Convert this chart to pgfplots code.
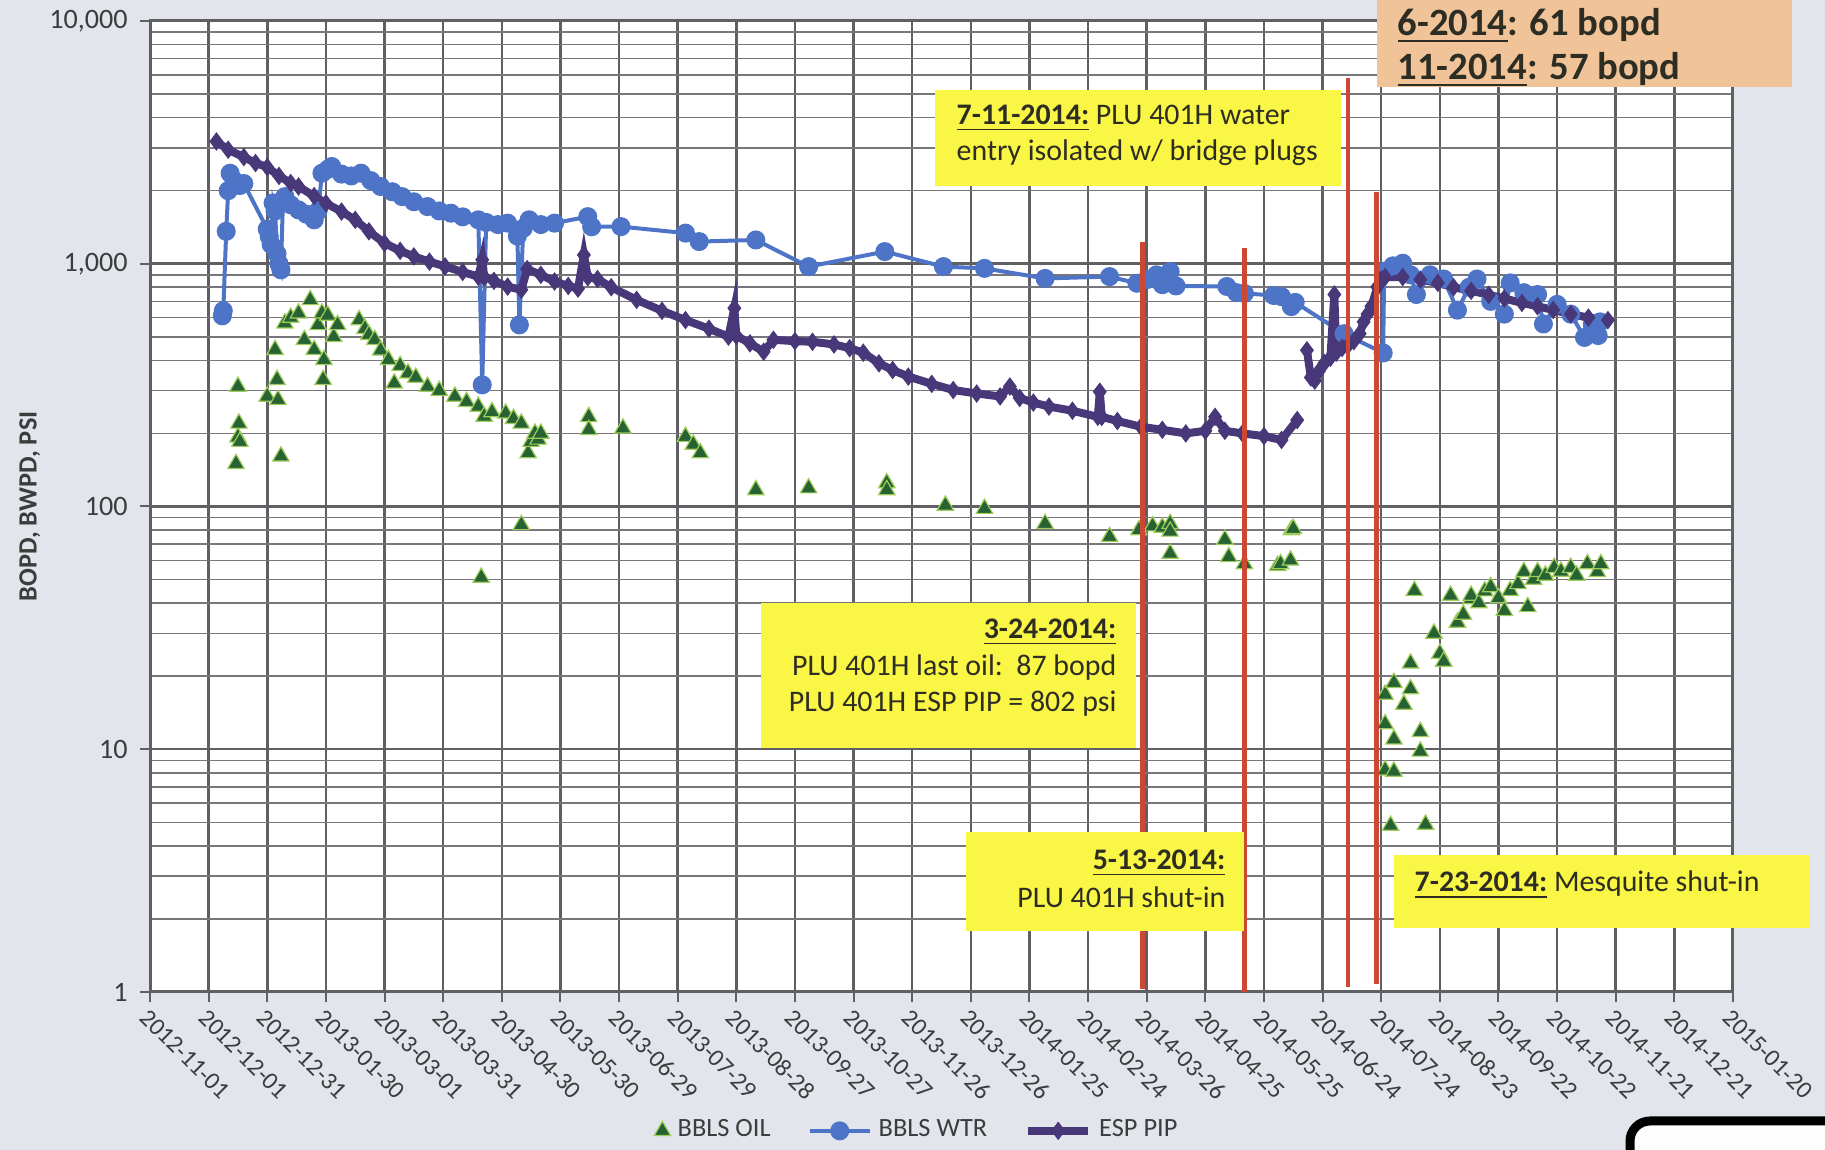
\documentclass[border=0pt]{standalone}
\usepackage{fontspec}
\setmainfont{Carlito}
\usepackage{pgfplots}
\pgfplotsset{compat=1.18}

\definecolor{bgpaper}{RGB}{226,229,236}
\definecolor{oilfill}{RGB}{38,98,52}
\definecolor{oiledge}{RGB}{160,205,90}
\definecolor{wtrblue}{RGB}{78,116,200}
\definecolor{pipdark}{RGB}{72,56,122}
\definecolor{gridgray}{RGB}{95,95,100}
\definecolor{noteyellow}{RGB}{250,246,70}
\definecolor{notepeach}{RGB}{240,196,152}
\definecolor{shutred}{RGB}{204,72,50}
\definecolor{txtgray}{RGB}{60,60,60}
\definecolor{notetext}{RGB}{45,45,35}

\newcommand\notefont{\fontsize{8.5}{10}\selectfont}

\begin{document}
\begin{tikzpicture}
\fill[bgpaper] (0,0) rectangle (182.5mm,115mm);
\path[use as bounding box] (0,0) rectangle (182.5mm,115mm);

\begin{axis}[
  at={(15mm,15.8mm)}, anchor=south west,
  width=158.3mm, height=97.1mm, scale only axis,
  xmin=0, xmax=810,
  ymode=log, ymin=1, ymax=10000,
  axis background/.style={fill=white},
  xtick={0,30,...,810},
  xticklabels={2012-11-01,2012-12-01,2012-12-31,2013-01-30,2013-03-01,2013-03-31,2013-04-30,2013-05-30,2013-06-29,2013-07-29,2013-08-28,2013-09-27,2013-10-27,2013-11-26,2013-12-26,2014-01-25,2014-02-24,2014-03-26,2014-04-25,2014-05-25,2014-06-24,2014-07-24,2014-08-23,2014-09-22,2014-10-22,2014-11-21,2014-12-21,2015-01-20},
  ytick={1,10,100,1000,10000},
  yticklabels={1,10,100,{1,000},{10,000}},
  xmajorgrids, ymajorgrids, yminorgrids,
  major grid style={gridgray, line width=0.25mm},
  minor grid style={gridgray!85, line width=0.16mm},
  axis line style={gridgray, line width=0.3mm},
  tick align=outside, tick pos=left,
  major tick length=1mm, minor tick length=0pt,
  tick style={gridgray, line width=0.2mm},
  xticklabel style={rotate=-45, anchor=north west, font=\fontsize{7}{8}\selectfont, text=txtgray, inner sep=1pt},
  yticklabel style={font=\fontsize{8}{9}\selectfont, text=txtgray},
  ylabel={BOPD, BWPD, PSI},
  ylabel style={at={(axis description cs:-0.076,0.5)}, anchor=center, font=\bfseries\fontsize{7.5}{9}\selectfont, text=txtgray},
  legend style={at={(axis description cs:0.486,-0.143)}, anchor=center, legend columns=-1, draw=none, fill=none,
    font=\fontsize{7.5}{8}\selectfont, text=txtgray,
    /tikz/every even column/.append style={column sep=3mm}},
]

% BBLS OIL
\addplot[only marks, mark=triangle*, mark size=0.95mm, mark options={fill=oilfill, draw=oiledge, line width=0.12mm}]
table {%
44 150
45 193
45.5 220
46 185
45 312
60 284
64 442
65 333
65.5 275
67 161
69 569
72 600
76 625
79 486
82 710
84 442
86 560
88 625
88.6 333
89 402
91 612
94 500
96 560
107 587
110 540
112 510
115 486
118 440
122 402
125 322
128 380
132 354
136 340
142 312
148 300
156 284
162 270
168 258
169.5 51
171 235
175 245
182 242
186 230
190 220
190 84
193.5 166
195 185
197 200
198.6 189
200 200
224.5 234
224.5 207
242 210
274 194
278 180
281.6 166
310 117
337 119
377 125
377 117
407 101
427 98
458 85
491 75
506 80
513 83
518 82
522 85
522 79
522 64
550 73
552 62
560 58
577 57
578.5 58
583.6 60
584 80
585 81
632 16.8
632 12.7
632 8.2
634.8 4.85
636.5 18.8
636.5 11
636.5 8.1
641.6 15.3
645 22.6
645 17.7
647 45
650 11.8
650 9.8
652.7 4.9
657 30
660 24.8
662 23
665.5 43
669 33.3
672 35.9
676 41.6
676 43
680 40
683 44.8
686 46.6
690 42
693 37.2
696 45
700 48
703 53.8
705 38.6
708 50
710 53.8
714 52
718.5 56
722 54
727 56
730 52
735.5 58
740.6 53.8
742.4 58
};
\addlegendentry{BBLS OIL}

% BBLS WTR
\addplot[wtrblue, line width=0.4mm, mark=*, mark size=0.75mm, mark options={fill=wtrblue, draw=wtrblue}]
table {%
37 610
37.5 640
39 1360
40 2000
41 2360
43 2200
46 2100
48 2140
60 1390
61 1295
62 1200
63 1780
64 1650
65 1100
66 1000
67 944
68 1800
69 1890
72 1750
76 1667
80 1600
84 1517
86 1650
88 2360
91 2450
93 2515
98 2340
103 2300
108 2360
113 2200
118 2080
124 1980
129 1890
135 1800
142 1720
148 1650
154 1615
160 1560
168 1517
170 317
172 1480
178 1450
183 1470
188 1300
189 560
191 1400
194 1517
200 1450
207 1470
224 1563
226 1420
241 1422
274 1337
281 1234
310 1253
337 973
376 1122
406 973
427 957
458 870
491 885
505 831
510 860
515 900
518 820
522 929
525 810
551 806
556 760
560 755
575 740
579 732
584 666
586 693
611 515
631 429
631.5 931
636 980
641 1005
645 900
648 747
655 900
662 865
669 644
675 800
679 865
686 700
693 620
696 834
703 760
710 747
713 565
720 680
727 620
734 497
738 560
741 506
742 576
};
\addlegendentry{BBLS WTR}

% ESP PIP
\addplot[pipdark, line width=0.8mm, mark=diamond*, mark size=0.85mm, mark options={fill=pipdark, draw=pipdark, line width=0.1mm}]
table {%
34 3190
40 2950
48 2750
54 2600
60 2500
66 2300
72 2150
76 2080
84 1900
90 1775
98 1640
105 1517
112 1360
120 1216
128 1130
135 1072
143 1020
151 975
160 925
168 885
170 1038
171 880
176 850
183 805
190 781
193 950
200 900
207 845
214 810
219 790
222 1087
224 880
229 865
236 800
249 710
262 640
274 586
286 540
296 501
299 656
300 505
307 470
314 434
319 486
330 480
339 477
350 465
358 449
365 430
373 389
380 365
388 343
400 320
411 302
423 292
435 284
440 312
445 280
452 268
460 258
472 248
485 234
486 297
487 234
495 225
507 213
518 207
530 200
540 205
545 234
550 205
559 200
570 195
579 188
587 227
};
\addlegendentry{ESP PIP}

\addplot[pipdark, line width=0.8mm, mark=diamond*, mark size=0.85mm, mark options={fill=pipdark, draw=pipdark, line width=0.1mm}, forget plot]
table {%
592 440
594 340
596 330
598 360
601 390
604 410
606 747
607 430
610 450
613 461
616 480
619 515
621 576
623 620
625 668
628 803
630 860
632 881
641 881
650 860
659 834
667 800
676 774
685 745
693 719
702 690
710 668
718 645
727 620
736 600
746 586
};
\end{axis}

% event lines, over the data, under the notes
\begin{axis}[
  at={(15mm,15.8mm)}, anchor=south west,
  width=158.3mm, height=97.1mm, scale only axis,
  xmin=0, xmax=810,
  ymode=log, ymin=1, ymax=10000,
  hide axis, clip=false,
]
\addplot[shutred, line width=0.47mm] coordinates {(508,1.03) (508,1231)};
\addplot[shutred, line width=0.47mm] coordinates {(560,1.0) (560,1163)};
\addplot[shutred, line width=0.47mm] coordinates {(613,1.05) (613,5830)};
\addplot[shutred, line width=0.47mm] coordinates {(627.5,1.08) (627.5,1977)};
\end{axis}

% annotation boxes
\fill[noteyellow] (93.5mm,96.4mm) rectangle (134.1mm,106.0mm);
\node[anchor=west, font=\notefont, text=notetext, inner sep=0pt] at (95.6mm,103.2mm) {\underline{\textbf{7-11-2014:}} PLU 401H water};
\node[anchor=west, font=\notefont, text=notetext, inner sep=0pt] at (95.6mm,99.7mm) {entry isolated w/ bridge plugs};

\fill[notepeach] (137.7mm,106.3mm) rectangle (179.2mm,115mm);
\node[anchor=west, font=\bfseries\fontsize{11}{13}\selectfont, text=notetext, inner sep=0pt] at (139.7mm,112.4mm) {\underline{6-2014}: 61 bopd};
\node[anchor=west, font=\bfseries\fontsize{11}{13}\selectfont, text=notetext, inner sep=0pt] at (139.7mm,108.0mm) {\underline{11-2014}: 57 bopd};

\fill[noteyellow] (76.1mm,40.2mm) rectangle (113.6mm,54.7mm);
\node[anchor=east, font=\notefont, text=notetext, inner sep=0pt] at (111.7mm,51.8mm) {\underline{\textbf{3-24-2014:}}};
\node[anchor=east, font=\notefont, text=notetext, inner sep=0pt] at (111.7mm,48.2mm) {PLU 401H last oil:\ \ 87 bopd};
\node[anchor=east, font=\notefont, text=notetext, inner sep=0pt] at (111.7mm,44.6mm) {PLU 401H ESP PIP = 802 psi};

\fill[noteyellow] (96.6mm,21.9mm) rectangle (124.4mm,31.8mm);
\node[anchor=east, font=\notefont, text=notetext, inner sep=0pt] at (122.6mm,28.7mm) {\underline{\textbf{5-13-2014:}}};
\node[anchor=east, font=\notefont, text=notetext, inner sep=0pt] at (122.6mm,25.3mm) {PLU 401H shut-in};

\fill[noteyellow] (139.4mm,22.2mm) rectangle (181mm,29.5mm);
\node[anchor=west, font=\notefont, text=notetext, inner sep=0pt] at (141.4mm,26.5mm) {\underline{\textbf{7-23-2014:}} Mesquite shut-in};

% partly visible stamp at the lower right corner
\draw[black, line width=0.9mm, rounded corners=2mm, fill=white!92!bgpaper] (163mm,-4mm) rectangle (195mm,2.9mm);
\end{tikzpicture}
\end{document}
